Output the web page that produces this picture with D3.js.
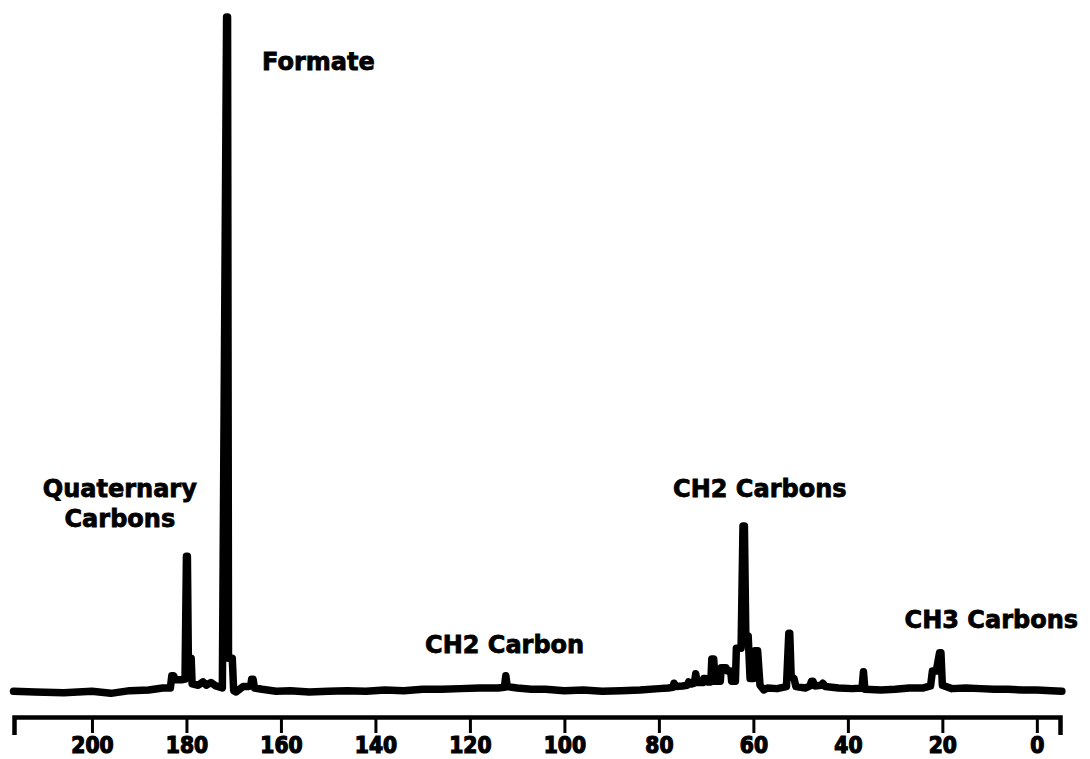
<!DOCTYPE html>
<html>
<head>
<meta charset="utf-8">
<script src="https://cdn.jsdelivr.net/npm/d3@7/dist/d3.min.js"></script>
<style>
  html, body { margin: 0; padding: 0; background: #fff; }
  svg { display: block; }
</style>
</head>
<body>
<div id="chart"></div>
<script>
// Chemical shift (ppm) of each traced point of the spectrum
const ppm = [
  216.6, 212, 206, 200, 196, 192, 188, 185, 183.4,
  183.1, 182.7, 182.4, 181.0, 180.3,
  180.0, 179.8, 179.6, 179.0, 178.8, 177.5, 176.5, 175.8, 174.8, 173.8, 172.4,
  171.5, 171.3, 171.1, 170.3, 170.0, 169.5, 168.0, 167.0, 166.4,
  166.2, 165.9, 165.6, 164, 161, 158, 154, 150, 146, 142, 138, 134, 130, 126, 122, 118, 114,
  112.7, 112.4, 112.1, 110, 107, 104, 100, 96, 92, 88, 84, 80, 78,
  77.0, 76.8, 76.5, 75, 74.0, 73.7, 73.4, 73.0, 72.5, 72.2, 71.9, 70.7, 70.5, 70.1, 69.8, 69.0,
  68.8, 68.4, 68.1, 67.0, 66.8, 65.8, 65.5, 64.8, 64.6, 63.8,
  63.6, 62.6, 62.2, 61.9, 61.6, 61.1, 60.7, 60.0, 59.7, 59.1, 58.6, 57.8, 57, 55, 53,
  52.5, 52.3, 52.0, 51.4, 51.0, 49, 48.0, 47.7, 47.4, 47.0, 45.6, 45.3, 44.8, 42, 39,
  37.0, 36.7, 36.4, 33, 30, 27, 24, 22.5, 22.1, 21.3, 20.6, 20.3, 20.0, 18, 15, 12, 9, 6, 3, 0, -3, -5.3
];
// Intensity at each point (Formate peak = 100)
const intensity = [
  0.1, 0.0, -0.1, 0.1, -0.2, 0.2, 0.3, 0.6, 0.6,
  2.4, 2.4, 1.8, 1.8, 1.9,
  20.1, 20.1, 5.0, 5.0, 1.2, 1.0, 1.5, 1.0, 1.4, 0.9, 0.6,
  100, 100, 5.0, 5.0, 0.2, 0.0, 0.8, 0.8, 0.9,
  1.9, 1.9, 0.6, 0.4, 0.1, 0.2, 0.0, 0.1, 0.2, 0.1, 0.3, 0.2, 0.4, 0.4, 0.5, 0.6, 0.6,
  0.7, 2.4, 0.8, 0.6, 0.4, 0.4, 0.2, 0.3, 0.1, 0.2, 0.3, 0.5, 0.6,
  0.7, 1.3, 0.8, 0.9, 1.0, 1.5, 1.2, 1.2, 1.3, 2.7, 1.4, 1.4, 2.0, 2.0, 1.5, 1.5,
  4.9, 4.9, 1.6, 1.6, 3.6, 3.6, 3.1, 3.1, 1.6, 1.6,
  6.5, 6.5, 24.6, 24.6, 8.3, 8.3, 2.0, 2.0, 6.1, 6.1, 1.0, 0.3, 0.6, 0.5, 0.8,
  8.7, 8.7, 2.3, 2.0, 0.8, 0.6, 0.9, 1.6, 1.6, 0.9, 1.0, 1.3, 0.8, 0.6, 0.5,
  0.6, 3.0, 0.4, 0.3, 0.4, 0.6, 0.6, 0.9, 3.1, 3.1, 5.8, 5.8, 1.0, 0.5, 0.6, 0.5, 0.4, 0.4, 0.3, 0.3, 0.2, 0.1
];

const tickValues = [200, 180, 160, 140, 120, 100, 80, 60, 40, 20, 0];
const tickLabels = ["200", "180", "160", "140", "120", "100", "80", "60", "40", "20", "0"];

const annotationTexts = ["Formate", "Quaternary", "Carbons", "CH2 Carbons", "CH2 Carbon", "CH3 Carbons"];
const annotationPpm   = [164.0, 194.1, 194.1, 77.0, 129.5, 28.0];
const annotationLevel = [92.1, 28.9, 24.4, 28.9, 5.8, 9.5];
const annotationAnchor = ["start", "middle", "middle", "start", "start", "start"];

const W = 1090, H = 759;
const svg = d3.select("#chart").append("svg").attr("width", W).attr("height", H);
svg.append("rect").attr("width", W).attr("height", H).attr("fill", "#fff");

const x = d3.scaleLinear().domain([216.5, -4.9]).range([14, 1060]);
const y = d3.scaleLinear().domain([0, 100]).range([692, 17]);

const pts = ppm.map((p, i) => [p, intensity[i]]);
const line = d3.line().x(d => x(d[0])).y(d => y(d[1]));

svg.append("path")
  .attr("d", line(pts))
  .attr("fill", "none")
  .attr("stroke", "#000")
  .attr("stroke-width", 7.5)
  .attr("stroke-linejoin", "round")
  .attr("stroke-linecap", "round");

// Axis
const axisY = 717;
const axis = d3.axisBottom(x)
  .tickValues(tickValues)
  .tickFormat((d, i) => tickLabels[i])
  .tickSizeInner(16)
  .tickSizeOuter(18)
  .tickPadding(5);

const gAxis = svg.append("g").attr("transform", `translate(0,${axisY})`).call(axis);
gAxis.select(".domain").attr("stroke", "#000").attr("stroke-width", 4.5);
gAxis.selectAll(".tick line").attr("stroke", "#000").attr("stroke-width", 3);
gAxis.selectAll(".tick text")
  .attr("fill", "#000")
  .attr("stroke", "#000")
  .attr("stroke-width", 1.2)
  .attr("font-family", "'DejaVu Sans Condensed', 'Liberation Sans Narrow', 'DejaVu Sans', sans-serif")
  .attr("font-stretch", "condensed")
  .attr("font-weight", "bold")
  .attr("font-size", 22.5)
  .attr("dy", null)
  .attr("y", 36);

// Annotations
svg.append("g").selectAll("text")
  .data(annotationTexts)
  .join("text")
  .attr("x", (d, i) => x(annotationPpm[i]))
  .attr("y", (d, i) => y(annotationLevel[i]))
  .attr("text-anchor", (d, i) => annotationAnchor[i])
  .attr("font-family", "'DejaVu Sans', sans-serif")
  .attr("font-weight", "bold")
  .attr("font-size", 24)
  .attr("fill", "#000")
  .attr("stroke", "#000")
  .attr("stroke-width", 0.8)
  .text(d => d);
</script>
</body>
</html>
